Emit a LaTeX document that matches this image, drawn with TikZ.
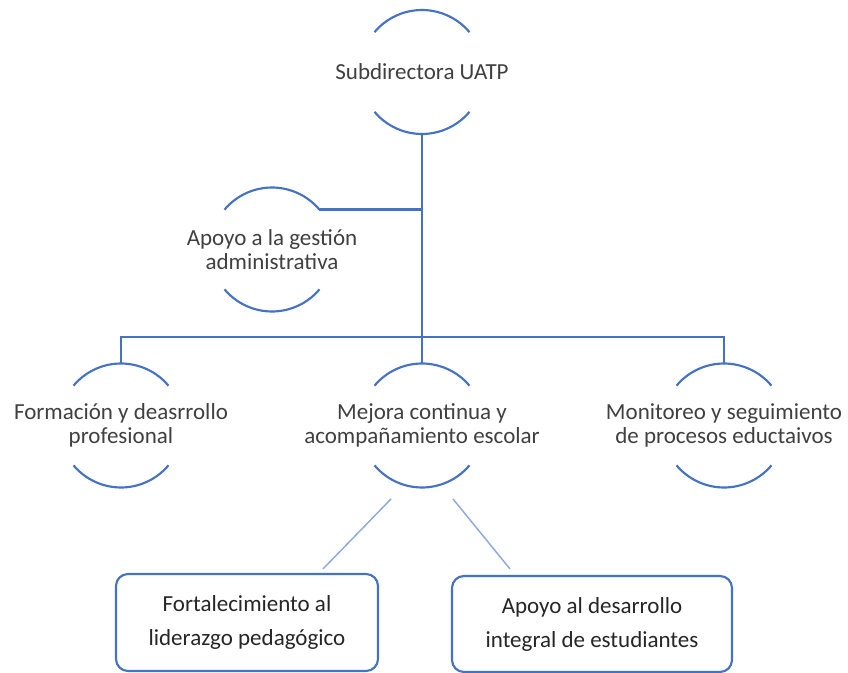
\documentclass[tikz,border=0pt]{standalone}
\usepackage{fontspec}
\setmainfont{Carlito}
\usepackage{tikz}
\definecolor{ringblue}{HTML}{4472C4}
\definecolor{twigblue}{HTML}{8FAADC}
\definecolor{txtgray}{HTML}{404040}
\definecolor{boxtxt}{HTML}{262626}

\begin{document}
\begin{tikzpicture}[x=0.75pt, y=-0.75pt,
        ring/.style={circle, minimum size=93pt, inner sep=0pt, outer sep=0pt},
        ringtext/.style={align=center, text=txtgray, font=\fontsize{17.25}{18}\selectfont},
        arcline/.style={draw=ringblue, line width=1.6pt},
        trunk/.style={draw=ringblue, line width=1.8pt},
        twig/.style={draw=twigblue, line width=1.1pt},
        leaf/.style={draw=ringblue, line width=1.6pt, rounded corners=9pt, align=center,
            text=boxtxt, font=\fontsize{17.25}{25.5}\selectfont, inner sep=0pt}]
        \fill[white] (0,0) rectangle (848,673);
        \useasboundingbox (0,0) rectangle (848,673);

        % Rings
        \node[ring, label={[ringtext]center:Subdirectora UATP}] (sub) at (422,72) {};
        \node[ring, label={[ringtext]center:{Apoyo a la gestión\\administrativa}}] (apo) at (272,249.5) {};
        \node[ring, label={[ringtext]center:{Formación y deasrrollo\\profesional}}] (for) at (121,425.5) {};
        \node[ring, label={[ringtext]center:{Mejora continua y\\acompañamiento escolar}}] (mej) at (422,425.5) {};
        \node[ring, label={[ringtext]center:{Monitoreo y seguimiento\\de procesos eductaivos}}] (mon) at (724,425.5) {};
        \coordinate (bus) at (422,337);

        \foreach \n in {sub,apo,for,mej,mon} {
            \draw[arcline] (\n.140) arc[start angle=140, end angle=40, radius=46.5pt];
            \draw[arcline] (\n.-140) arc[start angle=-140, end angle=-40, radius=46.5pt];
        }

        % Boxes
        \node[leaf, minimum width=196.5pt, minimum height=72.75pt] (fort) at (247,622.5) {Fortalecimiento al\\liderazgo pedagógico};
        \node[leaf, minimum width=210pt, minimum height=72pt] (int) at (592,624) {Apoyo al desarrollo\\integral de estudiantes};

        \draw[trunk] (sub.south) -- (mej.north);
        \draw[trunk] (apo.40) -- (apo.40 -| sub.south);
        \draw[trunk] (for.north) |- (bus) -| (mon.north);

        \draw[twig] ([xshift=-23.25pt, yshift=-8.6pt]mej.south) -- ([xshift=57pt, yshift=3pt]fort.north);
        \draw[twig] ([xshift=23.25pt, yshift=-8.6pt]mej.south) -- ([xshift=-61.5pt, yshift=4.5pt]int.north);

        \end{tikzpicture}
\end{document}
